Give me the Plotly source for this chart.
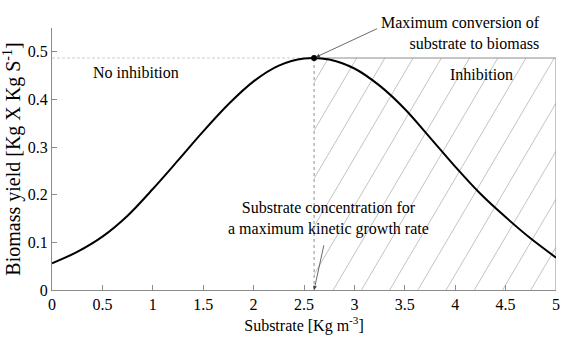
import numpy as np
import plotly.graph_objects as go

# ---- data ----
substrate = [0, 0.25, 0.5, 0.75, 1.0, 1.25, 1.5, 1.75, 2.0, 2.25, 2.5,
             2.75, 3.0, 3.25, 3.5, 3.75, 4.0, 4.25, 4.5, 4.75, 5.0]
biomass_yield = [0.056, 0.080, 0.112, 0.156, 0.212, 0.272, 0.333, 0.390, 0.438,
                 0.471, 0.486, 0.484, 0.465, 0.429, 0.380, 0.320, 0.259,
                 0.202, 0.153, 0.108, 0.068]
peak_x = 2.6
peak_y = 0.487
x_ticks = [0, 0.5, 1, 1.5, 2, 2.5, 3, 3.5, 4, 4.5, 5]
x_ticklabels = ["0", "0.5", "1", "1.5", "2", "2.5", "3", "3.5", "4", "4.5", "5"]
y_ticks = [0, 0.1, 0.2, 0.3, 0.4, 0.5]
y_ticklabels = ["0", "0.1", "0.2", "0.3", "0.4", "0.5"]
x_max = 5.0
y_max = 0.55

FONT = "'Liberation Serif', 'Times New Roman', Times, serif"
GRAY = "#8c8c8c"

fig = go.Figure()

# ---- hatching of the inhibition region ----
hatch_slope = 0.36   # data units dy/dx
hatch_step = 0.28
hatch_ref = 2.79
hx, hy = [], []
x0 = hatch_ref
while x0 - hatch_step > peak_x - peak_y / hatch_slope:
    x0 -= hatch_step
while x0 < x_max:
    xa = max(peak_x, x0)
    xb = min(x_max, x0 + peak_y / hatch_slope)
    if xb > xa:
        hx += [xa, xb, None]
        hy += [hatch_slope * (xa - x0), hatch_slope * (xb - x0), None]
    x0 += hatch_step
fig.add_trace(go.Scatter(x=hx, y=hy, mode="lines",
                         line=dict(color="#b4b4b4", width=0.8),
                         hoverinfo="skip", showlegend=False))

# region border lines
fig.add_trace(go.Scatter(x=[peak_x, x_max, x_max], y=[peak_y, peak_y, 0], mode="lines",
                         line=dict(color=GRAY, width=1), hoverinfo="skip", showlegend=False))
fig.add_trace(go.Scatter(x=[0, peak_x], y=[peak_y, peak_y], mode="lines",
                         line=dict(color="#c0c0c0", width=0.8, dash="3px,2px"),
                         hoverinfo="skip", showlegend=False))
fig.add_trace(go.Scatter(x=[peak_x, peak_x], y=[0, peak_y], mode="lines",
                         line=dict(color="#909090", width=1, dash="dot"),
                         hoverinfo="skip", showlegend=False))

# ---- main curve ----
fig.add_trace(go.Scatter(x=substrate, y=biomass_yield, mode="lines",
                         line=dict(color="black", width=2, shape="spline", smoothing=0.9),
                         showlegend=False))
fig.add_trace(go.Scatter(x=[peak_x], y=[peak_y], mode="markers",
                         marker=dict(color="black", size=6), showlegend=False))

tf = dict(family=FONT, size=16, color="black")
annotations = [
    dict(x=0.83, y=0.456, text="No inhibition", showarrow=False, font=tf),
    dict(x=4.26, y=0.452, text="Inhibition", showarrow=False, font=tf),
    dict(x=4.86, y=0.540, text="Maximum conversion of<br>substrate to biomass",
         showarrow=False, font=tf, xanchor="right", align="right"),
    dict(x=2.74, y=0.150, text="Substrate concentration for<br>a maximum kinetic growth rate",
         showarrow=False, font=tf, align="center"),
    dict(x=peak_x, y=peak_y, ax=3.24, ay=0.550, axref="x", ayref="y", text="",
         showarrow=True, arrowhead=2, arrowsize=1, arrowwidth=0.8, arrowcolor="#444",
         standoff=2),
    dict(x=peak_x, y=0.0, ax=2.70, ay=0.097, axref="x", ayref="y", text="",
         showarrow=True, arrowhead=2, arrowsize=1, arrowwidth=0.8, arrowcolor="#444",
         standoff=0),
]

fig.update_layout(
    width=566, height=347,
    margin=dict(l=52, r=6, t=28, b=57),
    paper_bgcolor="white", plot_bgcolor="white",
    font=dict(family=FONT, size=16, color="black"),
    annotations=annotations,
    xaxis=dict(range=[0, x_max], tickvals=x_ticks, ticktext=x_ticklabels,
               ticks="inside", ticklen=5, tickcolor=GRAY, showline=True, linecolor=GRAY,
               linewidth=1, showgrid=False, zeroline=False,
               tickfont=dict(family=FONT, size=16),
               title=dict(text="Substrate [Kg m<sup>-3</sup>]", standoff=7,
                          font=dict(family=FONT, size=16))),
    yaxis=dict(range=[0, y_max], tickvals=y_ticks, ticktext=y_ticklabels,
               ticks="inside", ticklen=5, tickcolor=GRAY, showline=True, linecolor=GRAY,
               linewidth=1, showgrid=False, zeroline=False,
               tickfont=dict(family=FONT, size=16),
               title=dict(text="Biomass yield [Kg X Kg S<sup>-1</sup>]", standoff=5,
                          font=dict(family=FONT, size=20))),
)

fig.write_html("out.html")
